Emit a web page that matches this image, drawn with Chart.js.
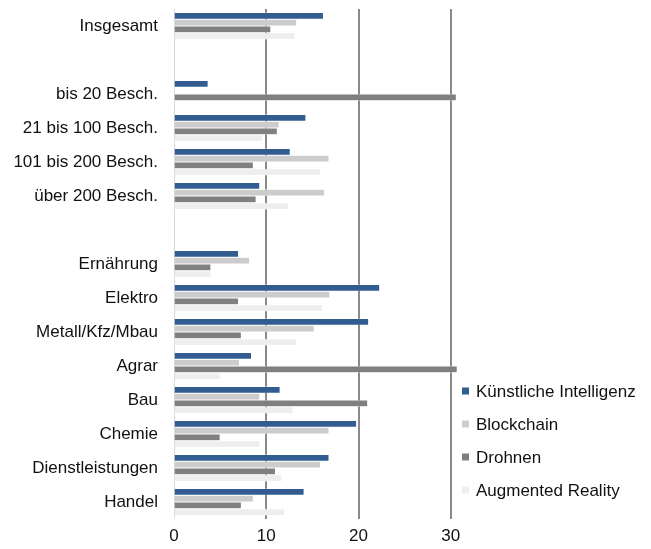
<!DOCTYPE html>
<html>
<head>
<meta charset="utf-8">
<script src="https://cdn.jsdelivr.net/npm/chart.js@4"></script>
<style>
    html, body { margin: 0; padding: 0; background: #fff; }
    #wrap { width: 651px; height: 549px; }
</style>
</head>
<body>
<div id="wrap"><canvas id="techChart" width="651" height="549"></canvas></div>
<script>
// Kategorien (leere Einträge = Abstand zwischen den Blöcken)
const kategorien = ['Insgesamt', '', 'bis 20 Besch.', '21 bis 100 Besch.', '101 bis 200 Besch.', 'über 200 Besch.', '',
    'Ernährung', 'Elektro', 'Metall/Kfz/Mbau', 'Agrar', 'Bau', 'Chemie', 'Dienstleistungen', 'Handel'];

const kuenstlicheIntelligenz = [16.2, null, 3.7, 14.3, 12.6, 9.3, null, 7.0, 22.3, 21.1, 8.4, 11.5, 19.8, 16.8, 14.1];
const blockchain = [13.3, null, null, 11.4, 16.8, 16.3, null, 8.2, 16.9, 15.2, 7.1, 9.3, 16.8, 15.9, 8.6];
const drohnen = [10.5, null, 30.6, 11.2, 8.6, 8.9, null, 4.0, 7.0, 7.3, 30.7, 21.0, 5.0, 11.0, 7.3];
const augmentedReality = [13.1, null, null, 9.6, 15.9, 12.4, null, 4.0, 16.1, 13.3, 5.0, 12.9, 9.3, 11.7, 12.0];

const xTicks = [0, 10, 20, 30];

const schrift = { family: 'Liberation Sans, Arial, sans-serif', size: 17 };

function serie(label, data, farbe) {
    return {
        label: label,
        data: data,
        backgroundColor: farbe,
        borderColor: '#ffffff',
        borderWidth: 0.5,
        borderSkipped: 'start',
        barPercentage: 1,
        categoryPercentage: 0.8
    };
}

// Legende rechts unten neben der Zeichenfläche (eigene Zeichnung)
const legendeRechts = {
    id: 'legendeRechts',
    afterDraw(chart) {
        const ctx = chart.ctx;
        const area = chart.chartArea;
        const sets = chart.data.datasets;
        ctx.save();
        ctx.font = '17px ' + schrift.family;
        ctx.textBaseline = 'middle';
        ctx.textAlign = 'left';
        sets.forEach((ds, i) => {
            const y = area.bottom - 29 - 33 * (sets.length - 1 - i);
            const x = area.right + 2;
            ctx.fillStyle = ds.backgroundColor;
            ctx.fillRect(x, y - 3.5, 7, 7);
            ctx.fillStyle = '#111111';
            ctx.fillText(ds.label, x + 14, y + 1);
        });
        ctx.restore();
    }
};

const ctx = document.getElementById('techChart').getContext('2d');
new Chart(ctx, {
    type: 'bar',
    data: {
        labels: kategorien,
        datasets: [
            serie('Künstliche Intelligenz', kuenstlicheIntelligenz, '#335d91'),
            serie('Blockchain', blockchain, '#cccccc'),
            serie('Drohnen', drohnen, '#808080'),
            serie('Augmented Reality', augmentedReality, '#eeeeee')
        ]
    },
    options: {
        indexAxis: 'y',
        responsive: false,
        animation: false,
        layout: { padding: { top: 9, right: 191, bottom: 3, left: 14 } },
        scales: {
            x: {
                min: 0,
                max: 31,
                afterBuildTicks: (scale) => {
                    scale.ticks = xTicks.map(v => ({ value: v }));
                },
                afterFit: (scale) => {
                    scale.height = 27;
                },
                ticks: {
                    color: '#111111',
                    font: schrift,
                    padding: 7
                },
                grid: {
                    color: (c) => c.tick && c.tick.value === 0 ? '#d9d9d9' : '#8a8a8a',
                    lineWidth: (c) => c.tick && c.tick.value === 0 ? 1 : 2,
                    drawTicks: false
                },
                border: { display: false }
            },
            y: {
                afterFit: (scale) => {
                    scale.width = 160;
                    scale.paddingTop = 0;
                    scale.paddingBottom = 0;
                },
                ticks: {
                    color: '#111111',
                    font: schrift,
                    padding: 16,
                    autoSkip: false
                },
                grid: { display: false, drawTicks: false },
                border: { display: false }
            }
        },
        plugins: {
            legend: { display: false },
            tooltip: { enabled: false }
        }
    },
    plugins: [legendeRechts]
});
</script>
</body>
</html>
